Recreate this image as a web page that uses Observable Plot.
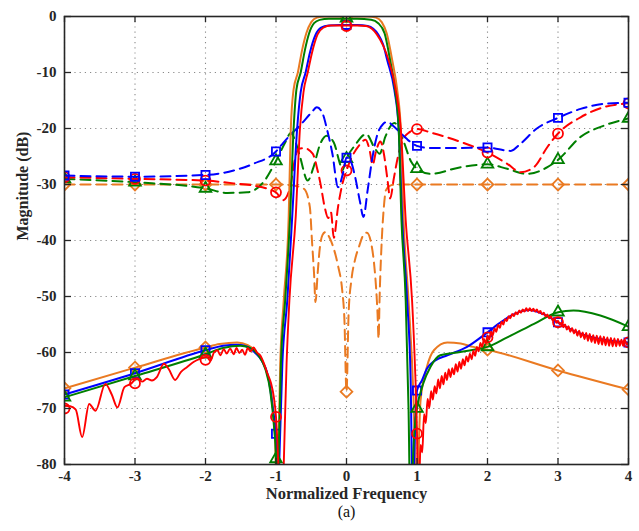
<!DOCTYPE html>
<html><head><meta charset="utf-8">
<script src="https://cdn.jsdelivr.net/npm/d3@7"></script>
<script src="https://cdn.jsdelivr.net/npm/@observablehq/plot@0.6"></script>
<style>
body{margin:0;background:#fff}
#chart svg g[aria-label$="tick label"] text{font-weight:bold;font-size:15px;font-family:'Liberation Serif','Times New Roman',serif}
</style>
</head><body><div id="chart"></div><script>
const xTicks = [-4,-3,-2,-1,0,1,2,3,4];
const yTicks = [0,-10,-20,-30,-40,-50,-60,-70,-80];
const xLabel = "Normalized Frequency";
const yLabel = "Magnitude (dB)";
const caption = "(a)";

// Solid (transmission) curves
const solidOrange = [[-4,-66.4],[-3,-62.7],[-2,-59.1],[-1.8,-58.5],[-1.55,-58.2],[-1.4,-58.7],[-1.3,-59.6],[-1.2,-61.3],[-1.12,-64],[-1.05,-69],[-1.01,-76],[-0.99,-92],[-0.965,-78],[-0.94,-62],[-0.89,-50.7],[-0.82,-35.7],[-0.79,-20],[-0.75,-13],[-0.69,-10],[-0.63,-6],[-0.57,-3],[-0.5,-1],[-0.42,-0.2],[-0.3,0],[0,0],[0.3,0],[0.42,-0.2],[0.5,-1],[0.57,-3],[0.65,-7.9],[0.72,-13.2],[0.77,-20],[0.81,-36.4],[0.88,-50.7],[0.95,-68],[1.0,-92],[1.03,-75],[1.05,-68.6],[1.14,-62.6],[1.24,-59.6],[1.43,-58.2],[1.62,-58.4],[1.8,-59],[2,-59.5],[3,-63.2],[4,-66.6]];
const solidBlue = [[-4,-67.5],[-3,-63.7],[-2,-59.6],[-1.75,-58.8],[-1.55,-58.6],[-1.4,-59],[-1.3,-60],[-1.2,-61.5],[-1.1,-65],[-1.04,-70.5],[-1.0,-74.5],[-0.98,-92],[-0.955,-80],[-0.91,-62],[-0.84,-50.7],[-0.77,-35.7],[-0.7,-20],[-0.65,-13.5],[-0.58,-10],[-0.52,-6.5],[-0.44,-3.3],[-0.36,-2],[-0.25,-1.6],[-0.1,-1.5],[0,-1.5],[0.15,-1.5],[0.3,-1.7],[0.38,-2.2],[0.45,-3.2],[0.52,-5],[0.58,-7.9],[0.68,-13.2],[0.74,-20],[0.79,-36.4],[0.86,-50.7],[0.91,-65],[0.94,-88],[0.97,-75],[1.0,-66.8],[1.07,-65],[1.14,-62.9],[1.26,-61.4],[1.43,-60.5],[1.71,-59],[2,-56.4],[2.2,-54.5],[2.4,-53],[2.6,-52.4],[2.8,-53.2],[3,-54.6],[3.2,-56],[3.4,-57],[3.6,-57.6],[3.8,-58],[4,-58.2]];
const solidGreen = [[-4,-68],[-3,-64.2],[-2,-60.3],[-1.75,-59.2],[-1.5,-58.8],[-1.35,-59.3],[-1.25,-60.5],[-1.15,-63],[-1.08,-67],[-1.03,-73],[-1.0,-79],[-0.985,-92],[-0.965,-80],[-0.93,-62],[-0.87,-50.7],[-0.8,-35.7],[-0.75,-20],[-0.71,-13],[-0.65,-10],[-0.59,-6],[-0.53,-3],[-0.46,-1.2],[-0.38,-0.6],[-0.25,-0.4],[0,-0.4],[0.15,-0.4],[0.35,-0.6],[0.45,-1.2],[0.54,-3],[0.62,-7.9],[0.69,-13.2],[0.74,-20],[0.78,-36.4],[0.84,-50.7],[0.88,-70],[0.91,-92],[0.94,-80],[0.97,-73],[1.0,-70],[1.09,-65.5],[1.19,-62.6],[1.33,-60.5],[1.57,-60],[1.9,-59.3],[2,-59],[2.28,-57.3],[2.66,-54.9],[3,-52.8],[3.22,-52.5],[3.6,-53.4],[4,-55.4]];
const solidRed = [[-4,-69.5],[-3.92,-69.6],[-3.84,-70.2],[-3.75,-75.1],[-3.65,-69.2],[-3.56,-70.4],[-3.42,-65.6],[-3.33,-67.5],[-3.25,-69.8],[-3.15,-66.2],[-3.06,-65.6],[-2.97,-64.6],[-2.9,-65.2],[-2.83,-64.7],[-2.76,-65],[-2.69,-64.4],[-2.59,-62],[-2.52,-63],[-2.43,-64.9],[-2.35,-63.5],[-2.26,-62.6],[-2.17,-61.7],[-2.07,-61.1],[-1.98,-60.8],[-1.93,-61.5],[-1.88,-60],[-1.83,-59.6],[-1.79,-60.5],[-1.74,-59.4],[-1.7,-60.2],[-1.65,-59.3],[-1.6,-60.3],[-1.56,-59.2],[-1.52,-60.1],[-1.48,-59.5],[-1.44,-60.4],[-1.4,-59.2],[-1.36,-59.8],[-1.32,-59.1],[-1.27,-60],[-1.22,-60.6],[-1.17,-62],[-1.12,-63.8],[-1.07,-65.5],[-1.03,-68],[-1,-71.5],[-0.98,-76],[-0.96,-82],[-0.925,-95],[-0.89,-80],[-0.85,-62],[-0.81,-50.7],[-0.72,-35.7],[-0.66,-20],[-0.61,-13.5],[-0.55,-10],[-0.49,-6.5],[-0.41,-3.2],[-0.33,-2],[-0.22,-1.6],[0,-1.6],[0.15,-1.6],[0.28,-1.7],[0.36,-2.2],[0.43,-3.2],[0.52,-5.2],[0.6,-7.9],[0.7,-13.2],[0.77,-20],[0.84,-36.4],[0.93,-50.7],[0.97,-62],[1,-74.5],[1.02,-92],[1.04,-80],
[1.05,-76.5],[1.075,-77.8],[1.1,-71.0],[1.125,-72.6],[1.15,-68.3],[1.175,-69.9],[1.2,-66.9],[1.225,-68.4],[1.25,-66.0],[1.275,-67.3],[1.3,-64.8],[1.325,-66.4],[1.35,-64.2],[1.375,-65.7],[1.4,-63.6],[1.425,-64.9],[1.45,-63.0],[1.475,-64.4],[1.5,-62.8],[1.525,-63.9],[1.55,-62.1],[1.575,-63.4],[1.6,-61.7],[1.625,-62.9],[1.65,-61.2],[1.675,-62.3],[1.7,-60.7],[1.725,-61.6],[1.75,-60.2],[1.775,-61.2],[1.8,-59.7],[1.825,-60.6],[1.85,-59.0],[1.875,-59.8],[1.9,-58.3],[1.925,-59.0],[1.95,-57.6],[1.975,-58.4],[2,-57.0],[2.025,-57.7],[2.05,-56.3],[2.075,-56.9],[2.1,-55.7],[2.125,-56.3],[2.15,-55.1],[2.175,-55.6],[2.2,-54.5],[2.225,-55.0],[2.25,-54.0],[2.275,-54.4],[2.3,-53.5],[2.325,-53.9],[2.35,-53.1],[2.375,-53.5],[2.4,-52.8],[2.425,-53.2],[2.45,-52.5],[2.475,-52.9],[2.5,-52.3],[2.525,-52.7],[2.55,-52.1],[2.575,-52.6],[2.6,-52.1],[2.625,-52.6],[2.65,-52.2],[2.675,-52.7],[2.7,-52.3],[2.725,-52.9],[2.75,-52.6],[2.775,-53.2],[2.8,-52.9],[2.825,-53.6],[2.85,-53.2],[2.875,-53.9],[2.9,-53.5],[2.925,-54.3],[2.95,-53.9],[2.975,-54.7],[3,-54.3],[3.025,-55.0],[3.05,-54.7],[3.075,-55.5],[3.1,-55.0],[3.125,-55.9],[3.15,-55.3],[3.175,-56.3],[3.2,-55.6],[3.225,-56.6],[3.25,-55.9],[3.275,-57.0],[3.3,-56.1],[3.325,-57.3],[3.35,-56.4],[3.375,-57.6],[3.4,-56.5],[3.425,-57.9],[3.45,-56.7],[3.475,-58.1],[3.5,-56.9],[3.525,-58.3],[3.55,-57.0],[3.575,-58.5],[3.6,-57.1],[3.625,-58.6],[3.65,-57.2],[3.675,-58.7],[3.7,-57.3],[3.725,-58.8],[3.75,-57.4],[3.775,-58.9],[3.8,-57.5],[3.825,-58.9],[3.85,-57.6],[3.875,-58.8],[3.9,-57.7],[3.925,-58.8],[3.95,-57.8],[3.975,-58.6],[4,-58.2]];

// Dashed (reflection) curves
const dashBlue = [[-4,-28.4],[-3,-28.6],[-2,-28.3],[-1.6,-27.5],[-1.32,-26.3],[-1,-24.1],[-0.9,-22.6],[-0.8,-21.2],[-0.65,-19.3],[-0.5,-17.2],[-0.42,-16.2],[-0.34,-17.3],[-0.27,-20.5],[-0.2,-24.5],[-0.12,-30.5],[-0.05,-28],[0,-25.2],[0.05,-25.6],[0.12,-28.5],[0.19,-33],[0.24,-35.8],[0.3,-31],[0.37,-25],[0.44,-21],[0.52,-19.2],[0.58,-18.8],[0.66,-19.5],[0.75,-20.6],[0.85,-21.8],[0.95,-22.8],[1,-23.1],[1.2,-23.5],[1.5,-23.5],[2,-23.4],[2.33,-24],[2.47,-22.7],[2.7,-20],[3,-18.1],[3.32,-16.5],[3.65,-15.6],[4,-15.4]];
const dashRed = [[-4,-28.7],[-3,-29],[-2,-29.3],[-1.6,-29.8],[-1.32,-30.2],[-1,-31.4],[-0.9,-32.8],[-0.8,-30.5],[-0.74,-26],[-0.68,-23.6],[-0.6,-23.5],[-0.48,-24.5],[-0.41,-27.5],[-0.37,-29.8],[-0.31,-34],[-0.26,-36],[-0.22,-35],[-0.18,-39.5],[-0.12,-34],[-0.06,-30],[0,-27.5],[0.08,-25],[0.18,-23],[0.27,-22],[0.33,-24],[0.37,-26.5],[0.42,-24],[0.48,-22.3],[0.53,-24.5],[0.58,-29],[0.62,-32.5],[0.67,-29],[0.73,-25],[0.8,-22],[0.9,-20.6],[1,-20.1],[1.19,-20.7],[1.62,-22.4],[2,-24.3],[2.28,-26.3],[2.47,-27.8],[2.66,-26.9],[2.85,-23.3],[3,-20.9],[3.32,-18],[3.65,-16.2],[4,-15.5]];
const dashGreen = [[-4,-29],[-3,-29.6],[-2,-30.7],[-1.69,-31.5],[-1.41,-31.4],[-1.18,-29.6],[-1,-25.8],[-0.87,-22.5],[-0.79,-20.8],[-0.72,-22.5],[-0.66,-25],[-0.55,-29.3],[-0.47,-27],[-0.38,-23],[-0.28,-21.3],[-0.18,-22.5],[-0.1,-26],[-0.06,-27.5],[0,-25.4],[0.12,-23],[0.28,-21],[0.4,-23.5],[0.47,-24.5],[0.55,-21.5],[0.68,-19],[0.8,-22],[0.92,-26],[1,-27.2],[1.19,-28.1],[1.62,-26.9],[2,-26.4],[2.28,-27.2],[2.56,-28.1],[2.85,-26.9],[3,-25.6],[3.32,-21.5],[3.65,-19.5],[4,-18.2]];
const dashOrange = [[-4,-30],[-3,-30],[-2,-30],[-1,-30],[-0.8,-30.1],[-0.7,-30.3],[-0.6,-30.8],[-0.52,-34],[-0.49,-40],[-0.46,-46],[-0.44,-51],[-0.41,-46],[-0.38,-41.5],[-0.34,-39],[-0.3,-38.5],[-0.24,-39.5],[-0.18,-41.5],[-0.12,-44.5],[-0.06,-49],[-0.03,-54],[0,-67],[0.03,-53],[0.07,-47],[0.12,-43.5],[0.18,-41],[0.24,-39],[0.29,-38.6],[0.35,-40.5],[0.39,-44],[0.42,-48.5],[0.44,-53],[0.455,-57.5],[0.47,-50],[0.5,-40],[0.53,-34],[0.56,-31],[0.62,-30.2],[0.7,-30],[1,-30],[2,-30],[3,-30],[4,-30]];

// Markers
const mkSolidBlue = [[-4,-67.5],[-3,-63.7],[-2,-59.6],[-1,-74.5],[0,-1.5],[1,-66.8],[2,-56.4],[3,-54.6],[4,-58.2]];
const mkSolidRed = [[-4,-70],[-3,-65.5],[-2,-61.3],[-1,-71.5],[0,-1.7],[1,-74.5],[2,-57.3],[3,-54.6],[4,-58.2]];
const mkSolidGreen = [[-4,-68],[-3,-64.2],[-2,-60.3],[-1,-79],[0,-0.3],[1,-70],[2,-59],[3,-52.8],[4,-55.4]];
const mkSolidOrange = [[-4,-66.4],[-3,-62.7],[-2,-59.1],[0,0],[2,-59.5],[3,-63.2],[4,-66.6]];
const mkDashBlue = [[-4,-28.4],[-3,-28.6],[-2,-28.3],[-1,-24.1],[0,-25.2],[1,-23.1],[2,-23.4],[3,-18.1],[4,-15.4]];
const mkDashRed = [[-4,-28.7],[-3,-29],[-2,-29.3],[-1,-31.4],[0,-27.5],[1,-20.1],[2,-24.3],[3,-20.9],[4,-15.5]];
const mkDashGreen = [[-4,-29],[-3,-29.6],[-2,-30.7],[-1,-25.8],[0,-25.4],[1,-27.2],[2,-26.4],[3,-25.6],[4,-18.2]];
const mkDashOrange = [[-4,-30],[-3,-30],[-2,-30],[-1,-30],[0,-67],[1,-30],[2,-30],[3,-30],[4,-30]];

const C = {blue:"#0000ff", red:"#ff0000", green:"#007f00", orange:"#ea7a22"};
const px = d => d[0], py = d => d[1];
const line = (data, color, dashed, w = 2) => Plot.line(data, {x: px, y: py, stroke: color, strokeWidth: w, curve: "monotone-x", clip: true, strokeDasharray: dashed ? "10,6" : null});
const dots = (data, color, symbol, r) => Plot.dot(data, {x: px, y: py, symbol, r, stroke: color, strokeWidth: 1.8, fill: "none", clip: true});

const chart = Plot.plot({
  width: 639, height: 531,
  marginLeft: 64, marginRight: 11, marginTop: 16, marginBottom: 67,
  x: {domain: [-4, 4]},
  y: {domain: [-80, 0]},
  style: {fontFamily: "'Liberation Serif','Times New Roman',serif", fontSize: "15px", fontWeight: "bold", background: "#fff", color: "#262626", overflow: "visible"},
  marks: [
    Plot.gridX(xTicks, {stroke: "#8a8a8a", strokeOpacity: 1, strokeWidth: 1.1, strokeDasharray: "1.2,4"}),
    Plot.gridY(yTicks, {stroke: "#8a8a8a", strokeOpacity: 1, strokeWidth: 1.1, strokeDasharray: "1.2,4"}),
    line(dashOrange, C.orange, true), dots(mkDashOrange, C.orange, "diamond2", 5.3),
    line(dashGreen, C.green, true), dots(mkDashGreen, C.green, "triangle", 4.3),
    line(dashRed, C.red, true), dots(mkDashRed, C.red, "circle", 5),
    line(dashBlue, C.blue, true), dots(mkDashBlue, C.blue, "square", 4.6),
    line(solidOrange, C.orange, false), dots(mkSolidOrange, C.orange, "diamond2", 5.3),
    line(solidBlue, C.blue, false), dots(mkSolidBlue, C.blue, "square", 4.6),
    line(solidGreen, C.green, false), dots(mkSolidGreen, C.green, "triangle", 4.3),
    line(solidRed, C.red, false, 1.9), dots(mkSolidRed, C.red, "circle", 5),
    Plot.tickX(xTicks, {insetTop: 442, stroke: "#262626", strokeWidth: 1.3}),
    Plot.tickX(xTicks, {insetBottom: 442, stroke: "#262626", strokeWidth: 1.3}),
    Plot.tickY(yTicks, {insetRight: 557, stroke: "#262626", strokeWidth: 1.3}),
    Plot.tickY(yTicks, {insetLeft: 557, stroke: "#262626", strokeWidth: 1.3}),
    Plot.frame({stroke: "#262626", strokeWidth: 1.6}),
    Plot.axisX(xTicks, {tickSize: 0, tickPadding: 6, tickFormat: d => String(d), label: null}),
    Plot.axisY(yTicks, {tickSize: 0, tickPadding: 8, tickFormat: d => String(d), label: null}),
    Plot.text([yLabel], {text: d => d, frameAnchor: "left", dx: -42, rotate: -90, fontSize: 16, fontWeight: "bold", fill: "#262626"}),
    Plot.text([xLabel], {text: d => d, frameAnchor: "bottom", dy: 34, fontSize: 16.5, fontWeight: "bold", fill: "#262626"}),
    Plot.text([caption], {text: d => d, frameAnchor: "bottom", dy: 52, fontSize: 16, fontWeight: "normal", fill: "#111"})
  ]
});
document.getElementById("chart").appendChild(chart);
</script></body></html>
